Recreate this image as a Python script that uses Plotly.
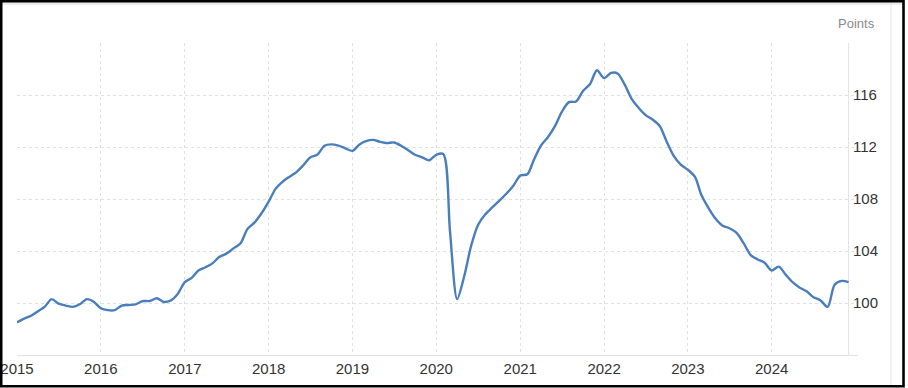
import plotly.graph_objects as go
import pandas as pd

start = "2015-01-01"
values = [
    # 2015
    98.5, 98.8, 99.0, 99.35, 99.7, 100.3, 99.95, 99.8, 99.7, 99.9, 100.3, 100.1,
    # 2016
    99.6, 99.45, 99.45, 99.8, 99.85, 99.9, 100.15, 100.15, 100.37, 100.08, 100.2, 100.7,
    # 2017
    101.6, 101.95, 102.5, 102.75, 103.05, 103.55, 103.8, 104.2, 104.6, 105.7, 106.2, 106.9,
    # 2018
    107.8, 108.8, 109.3, 109.7, 110.05, 110.6, 111.2, 111.4, 112.1, 112.2, 112.1, 111.9,
    # 2019
    111.7, 112.2, 112.45, 112.55, 112.4, 112.3, 112.35, 112.1, 111.75, 111.4, 111.2, 110.97,
    # 2020
    111.4, 111.45, 105.5, 100.3, 102.0, 104.4, 106.0, 106.8, 107.35, 107.85, 108.4, 109.0,
    # 2021
    109.8, 109.9, 111.0, 112.1, 112.75, 113.6, 114.7, 115.45, 115.5, 116.3, 116.85, 117.9,
    # 2022
    117.3, 117.7, 117.65, 116.8, 115.7, 115.0, 114.45, 114.1, 113.6, 112.4, 111.3, 110.65,
    # 2023
    110.25, 109.7, 108.3, 107.3, 106.5, 105.95, 105.75, 105.4, 104.6, 103.7, 103.35, 103.1,
    # 2024
    102.5, 102.8, 102.2, 101.6, 101.2, 100.9, 100.45, 100.2, 99.7, 101.4, 101.7, 101.6,
]
dates = pd.date_range(start, periods=len(values), freq="MS")

year_ticks = [f"{y}-01-01" for y in range(2015, 2025)]
year_labels = [str(y) for y in range(2015, 2025)]
y_ticks = [100, 104, 108, 112, 116, 120]
y_labels = ["100", "104", "108", "112", "116", ""]
unit_label = "Points"

W, H = 908, 388
L, R, T, B = 17, 858, 43, 355
pw, ph = R - L, B - T

def px(x):
    return (x - L) / pw

def py(y):
    return (B - y) / ph

fig = go.Figure()
fig.add_trace(go.Scatter(
    x=dates, y=values, mode="lines",
    line=dict(color="#4a7ebb", width=2.4, shape="spline", smoothing=0.8),
    hoverinfo="x+y", showlegend=False,
))

shapes = [
    dict(type="rect", xref="paper", yref="paper", x0=px(2), x1=px(902), y0=py(5), y1=py(2),
         fillcolor="#ececec", line=dict(width=0), layer="below"),
    dict(type="line", xref="paper", yref="paper", x0=px(891), x1=px(891), y0=py(386), y1=py(2),
         line=dict(color="#e4e4e4", width=1), layer="below"),
    dict(type="line", xref="x", yref="paper", x0=dates[-1], x1=dates[-1], y0=0, y1=1,
         line=dict(color="#e2e2e2", width=1), layer="below"),
    dict(type="rect", xref="paper", yref="paper", x0=px(1.2), x1=px(903.5), y0=py(386.3), y1=py(1.3),
         line=dict(color="#000000", width=2.6), fillcolor="rgba(0,0,0,0)"),
]

fig.update_layout(
    width=W, height=H,
    margin=dict(l=L, r=W - R, t=T, b=H - B, autoexpand=False),
    paper_bgcolor="white", plot_bgcolor="white",
    font=dict(family="Arial, Liberation Sans, sans-serif", size=15, color="#333333"),
    shapes=shapes,
    annotations=[dict(text=unit_label, xref="paper", yref="paper", x=px(877), y=py(23),
                      xanchor="right", yanchor="middle", showarrow=False,
                      font=dict(size=13, color="#8a8a8a"))],
    xaxis=dict(
        range=["2015-01-01", "2025-01-11"],
        tickvals=year_ticks, ticktext=year_labels,
        showgrid=True, gridcolor="#e0e0e0", griddash="dot", gridwidth=1,
        showline=True, linecolor="#e2e2e2", linewidth=1,
        ticks="", zeroline=False, automargin=False,
        tickfont=dict(size=15, color="#333333"),
    ),
    yaxis=dict(
        range=[96, 120], side="right",
        tickvals=y_ticks, ticktext=y_labels,
        showgrid=True, gridcolor="#e0e0e0", griddash="dot", gridwidth=1,
        showline=False, ticks="", zeroline=False, automargin=False,
        ticklabelstandoff=-6,
        tickfont=dict(size=15, color="#333333"),
    ),
)

fig.write_html(
    "out.html",
    config={"displayModeBar": False},
    post_script="document.body.style.margin='0';document.body.style.padding='0';document.body.style.overflow='hidden';",
)
